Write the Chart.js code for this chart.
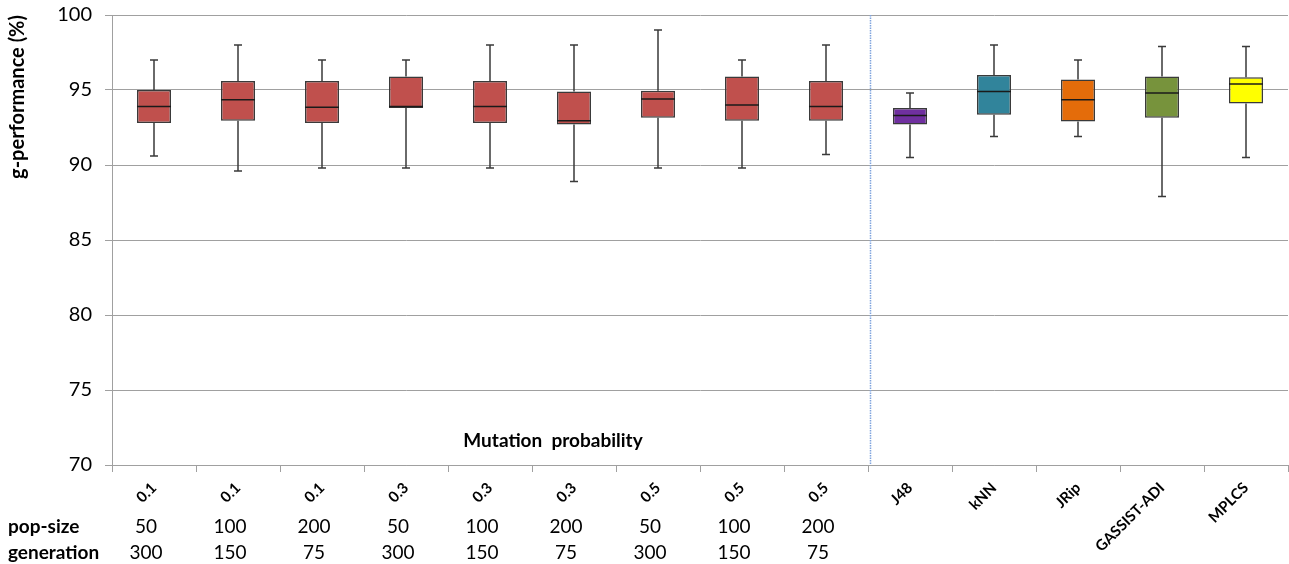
<!DOCTYPE html>
<html>
<head>
<meta charset="utf-8">
<script src="https://cdn.jsdelivr.net/npm/chart.js@4.4.0/dist/chart.umd.min.js"></script>
<style>
  html, body { margin: 0; padding: 0; background: #fff; }
</style>
</head>
<body>
<canvas id="myChart" width="1289" height="564"></canvas>
<script>
// categories (mutation probability for the 9 GA settings, then the other methods)
const categories = ['0.1', '0.1', '0.1', '0.3', '0.3', '0.3', '0.5', '0.5', '0.5', 'J48', 'kNN', 'JRip', 'GASSIST-ADI', 'MPLCS'];
const popSize = ['50', '100', '200', '50', '100', '200', '50', '100', '200'];
const generation = ['300', '150', '75', '300', '150', '75', '300', '150', '75'];

// box plot values, g-performance (%)
const whiskerLow = [90.6, 89.6, 89.8, 89.8, 89.8, 88.9, 89.8, 89.8, 90.7, 90.5, 91.9, 91.9, 87.9, 90.5];
const q1 = [92.8, 92.95, 92.8, 93.8, 92.8, 92.7, 93.15, 92.95, 92.95, 92.7, 93.35, 92.9, 93.15, 94.1];
const median = [93.9, 94.35, 93.85, 93.9, 93.9, 92.95, 94.4, 94.0, 93.9, 93.3, 94.9, 94.35, 94.8, 95.4];
const q3 = [95.0, 95.6, 95.6, 95.9, 95.6, 94.9, 94.95, 95.9, 95.6, 93.8, 96.0, 95.7, 95.9, 95.85];
const whiskerHigh = [97, 98, 97, 97, 98, 98, 99, 97, 98, 94.8, 98, 97, 97.9, 97.9];

const yTicks = [70, 75, 80, 85, 90, 95, 100];
const boxColors = ['#C0504D', '#C0504D', '#C0504D', '#C0504D', '#C0504D', '#C0504D', '#C0504D', '#C0504D', '#C0504D',
  '#7030A0', '#31849B', '#E46C0A', '#77933C', '#FFFF00'];

const FONT = 'Lato, "Open Sans", sans-serif';

const boxPlotExtras = {
  id: 'boxPlotExtras',
  beforeDatasetsDraw(chart) {
    const ctx = chart.ctx;
    const x = chart.scales.x, y = chart.scales.y;
    const area = chart.chartArea;
    ctx.save();
    // separator between GA settings and other methods
    const sx = Math.round(x.getPixelForValue(8.5)) + 2.5;
    ctx.strokeStyle = '#7fa4de';
    ctx.lineWidth = 1.5;
    ctx.setLineDash([1.5, 1]);
    ctx.beginPath();
    ctx.moveTo(sx, area.top);
    ctx.lineTo(sx, area.bottom);
    ctx.stroke();
    ctx.setLineDash([]);

    // whiskers
    ctx.strokeStyle = '#3a3a3a';
    ctx.lineWidth = 1.5;
    chart.getDatasetMeta(0).data.forEach(function (bar, i) {
      const cx = Math.round(bar.x);
      const hi = y.getPixelForValue(whiskerHigh[i]);
      const lo = y.getPixelForValue(whiskerLow[i]);
      ctx.beginPath();
      ctx.moveTo(cx, hi);
      ctx.lineTo(cx, y.getPixelForValue(q3[i]));
      ctx.moveTo(cx, y.getPixelForValue(q1[i]));
      ctx.lineTo(cx, lo);
      ctx.moveTo(cx - 4, hi);
      ctx.lineTo(cx + 4, hi);
      ctx.moveTo(cx - 4, lo);
      ctx.lineTo(cx + 4, lo);
      ctx.stroke();
    });
    ctx.restore();
  },
  afterDatasetsDraw(chart) {
    const ctx = chart.ctx;
    const y = chart.scales.y;
    ctx.save();
    ctx.strokeStyle = '#1a1a1a';
    ctx.lineWidth = 1.5;
    chart.getDatasetMeta(0).data.forEach(function (bar, i) {
      const my = y.getPixelForValue(median[i]);
      ctx.beginPath();
      ctx.moveTo(bar.x - bar.width / 2, my);
      ctx.lineTo(bar.x + bar.width / 2, my);
      ctx.stroke();
    });
    ctx.restore();
  },
  afterDraw(chart) {
    const ctx = chart.ctx;
    const x = chart.scales.x;
    ctx.save();
    ctx.fillStyle = '#000';
    ctx.textBaseline = 'middle';

    ctx.textAlign = 'center';
    ctx.font = 'bold 19px ' + FONT;
    ctx.fillText('Mutation  probability', x.getPixelForValue(4.75), 441);

    ctx.textAlign = 'left';
    ctx.font = 'bold 19px ' + FONT;
    ctx.fillText('pop-size', 8, 527);
    ctx.fillText('generation', 8, 553);

    ctx.textAlign = 'center';
    ctx.font = '19px ' + FONT;
    popSize.forEach(function (v, i) {
      ctx.fillText(v, x.getPixelForValue(i) - 8, 527);
    });
    generation.forEach(function (v, i) {
      ctx.fillText(v, x.getPixelForValue(i) - 8, 553);
    });
    ctx.restore();
  }
};

new Chart(document.getElementById('myChart'), {
  type: 'bar',
  data: {
    labels: categories,
    datasets: [{
      label: 'g-performance',
      data: categories.map(function (c, i) { return [q1[i], q3[i]]; }),
      backgroundColor: boxColors,
      borderColor: '#3a3a3a',
      borderWidth: 1.5,
      borderSkipped: false,
      barPercentage: 0.405,
      categoryPercentage: 1.0
    }]
  },
  options: {
    responsive: false,
    animation: false,
    layout: { padding: { top: 0, right: 1, left: 0, bottom: 0 } },
    plugins: {
      legend: { display: false },
      tooltip: { enabled: false }
    },
    scales: {
      x: {
        grid: { drawOnChartArea: false, drawTicks: true, tickLength: 7, color: '#a0a0a0' },
        border: { color: '#a0a0a0' },
        ticks: {
          color: '#000',
          font: { family: FONT, size: 15, weight: 'bold' },
          maxRotation: 45,
          minRotation: 45,
          padding: 7,
          autoSkip: false
        },
        afterFit: function (scale) { scale.height = 99; }
      },
      y: {
        min: 70,
        max: 100,
        afterBuildTicks: function (scale) {
          scale.ticks = yTicks.map(function (v) { return { value: v }; });
        },
        grid: { color: '#a0a0a0', tickLength: 7 },
        border: { color: '#a0a0a0' },
        ticks: {
          color: '#000',
          font: { family: FONT, size: 20 },
          padding: 13
        },
        title: {
          display: true,
          text: 'g-performance (%)',
          align: 'end',
          color: '#000',
          font: { family: FONT, size: 20, weight: 'bold' },
          padding: { top: 6, bottom: 0 }
        },
        afterFit: function (scale) {
          scale.width = 112;
          scale.paddingTop = 15;
          scale.paddingBottom = 0;
        }
      }
    }
  },
  plugins: [boxPlotExtras]
});
</script>
</body>
</html>
